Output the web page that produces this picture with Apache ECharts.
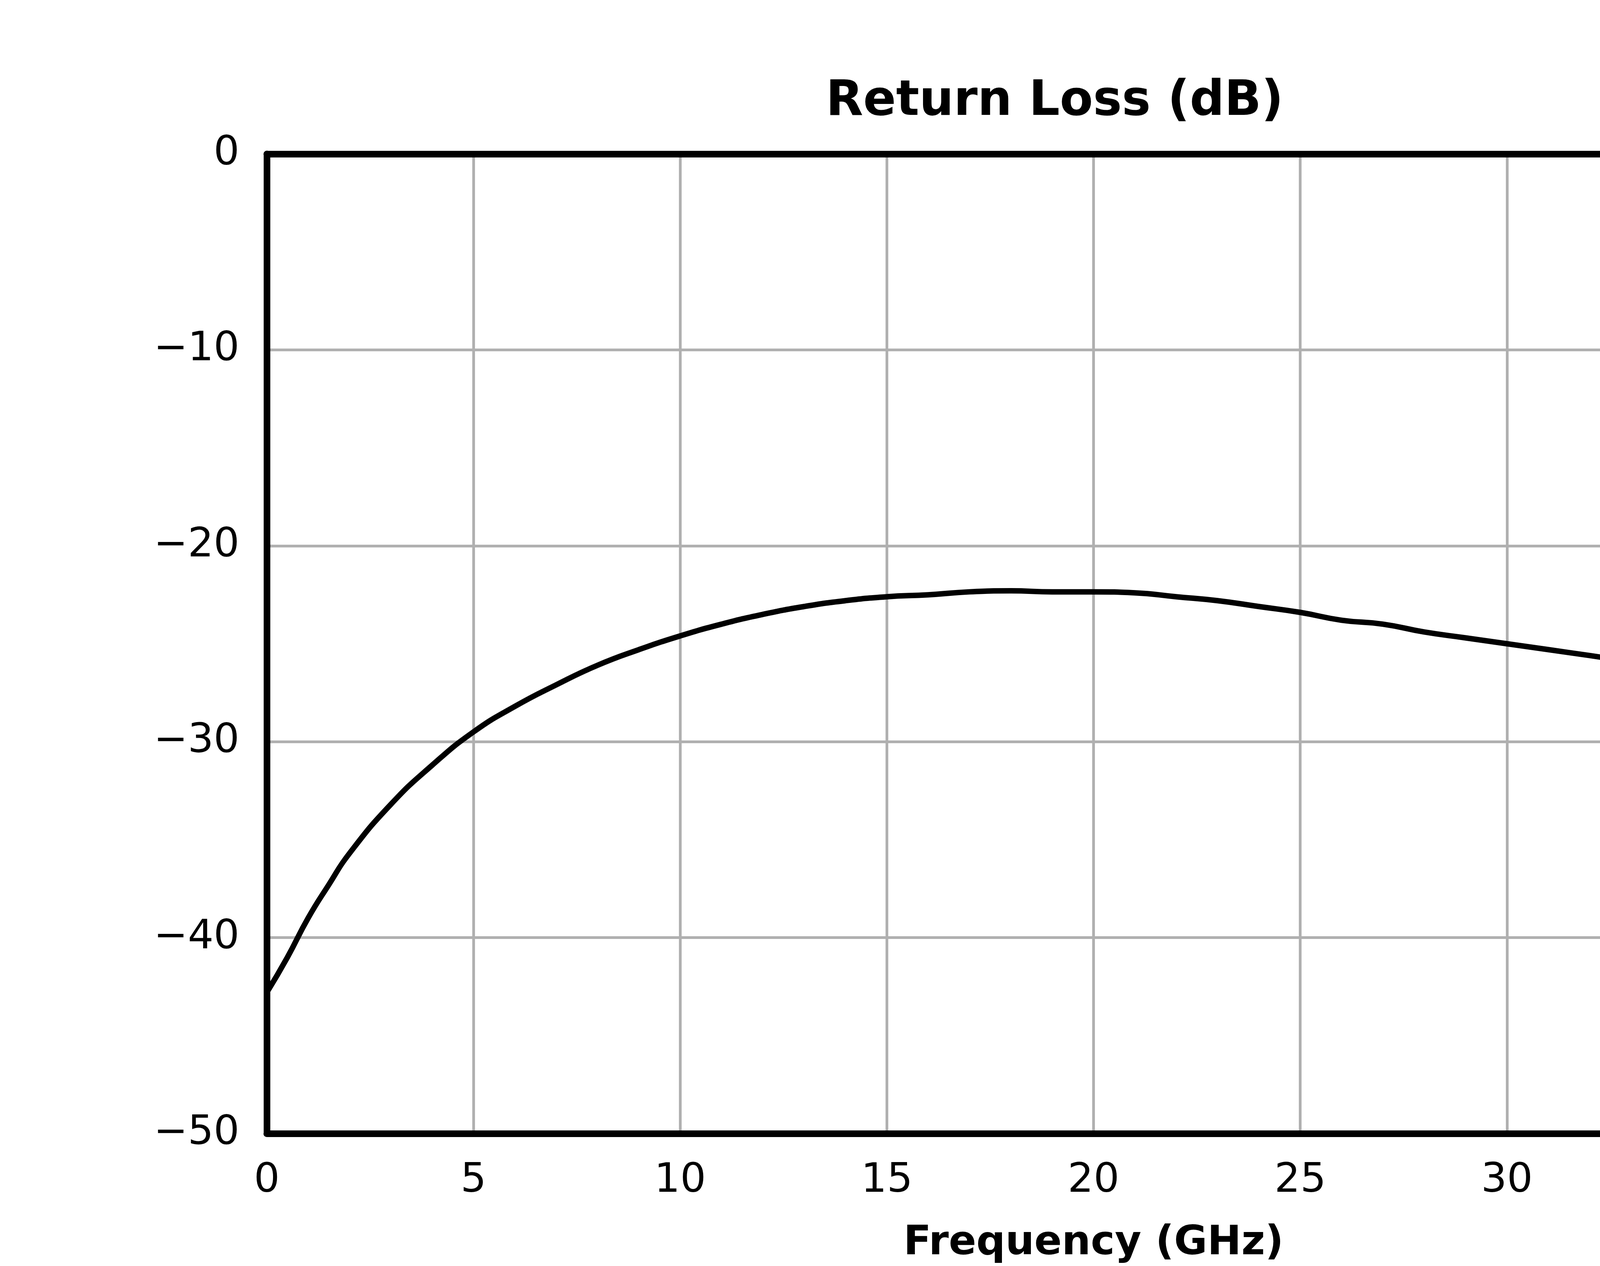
<!DOCTYPE html>
<html><head><meta charset="utf-8">
<script src="https://cdn.jsdelivr.net/npm/echarts@6/dist/echarts.min.js"></script>
<style>html,body{margin:0;padding:0;background:#fff}#c{width:5400px;height:3240px}</style>
</head><body><div id="c"></div>
<script>
const freq = [0,0.5,1,1.5,2,3,4,5,6,7,8,9,10,11,12,13,14,15,16,17,18,19,20,21,22,23,24,25,26,27,28,29,30,31,32,33,34,35,36,37,38,39,40];
const inputRL = [-42.8,-41,-39,-37.3,-35.7,-33.2,-31.2,-29.5,-28.2,-27.1,-26.1,-25.3,-24.6,-24,-23.5,-23.1,-22.8,-22.6,-22.5,-22.35,-22.3,-22.35,-22.35,-22.4,-22.6,-22.8,-23.1,-23.4,-23.8,-24.0,-24.4,-24.7,-25.0,-25.3,-25.6,-25.9,-26.0,-25.9,-25.6,-25.2,-24.6,-24.0,-23.4];
const outputRL = [];
const F = 'DejaVu Sans';
const frame = {show:true,onZero:false,lineStyle:{color:'#000',width:17}};
const chart = echarts.init(document.getElementById('c'));
chart.setOption({
  animation:false,
  title:{text:'Return Loss (dB)',left:'center',top:195,textStyle:{fontFamily:F,fontWeight:'bold',fontSize:124,color:'#000'}},
  grid:{left:683,right:5400-4916,top:394,bottom:3240-2916},
  legend:{orient:'vertical',left:4090,top:480,itemWidth:240,itemHeight:30,itemGap:70,
    textStyle:{fontFamily:F,fontSize:104,color:'#000',padding:[0,0,0,50]},data:['Output','Input']},
  xAxis:[{type:'value',min:0,max:40,interval:5,name:'Frequency (GHz)',nameLocation:'middle',nameGap:230,
    nameTextStyle:{fontFamily:F,fontWeight:'bold',fontSize:104,color:'#000'},
    axisLine:frame,axisTick:{show:false},
    axisLabel:{fontFamily:F,fontSize:104,color:'#000',margin:70},
    splitLine:{lineStyle:{color:'#b0b0b0',width:7}}},
    {type:'value',position:'top',min:0,max:40,axisLine:frame,axisTick:{show:false},axisLabel:{show:false},splitLine:{show:false}}],
  yAxis:[{type:'value',min:-50,max:0,interval:10,
    axisLine:frame,axisTick:{show:false},
    axisLabel:{fontFamily:F,fontSize:104,color:'#000',margin:70,formatter:v=>String(v).replace('-','\u2212')},
    splitLine:{lineStyle:{color:'#b0b0b0',width:7}}},
    {type:'value',position:'right',min:-50,max:0,axisLine:frame,axisTick:{show:false},axisLabel:{show:false},splitLine:{show:false}}],
  series:[
    {name:'Output',type:'line',showSymbol:false,data:outputRL,lineStyle:{color:'#000',width:14,type:[40,25]},itemStyle:{color:'#000'}},
    {name:'Input',type:'line',showSymbol:false,smooth:true,data:freq.map((f,i)=>[f,inputRL[i]]),lineStyle:{color:'#000',width:14},itemStyle:{color:'#000'}}
  ]
});
</script></body></html>
